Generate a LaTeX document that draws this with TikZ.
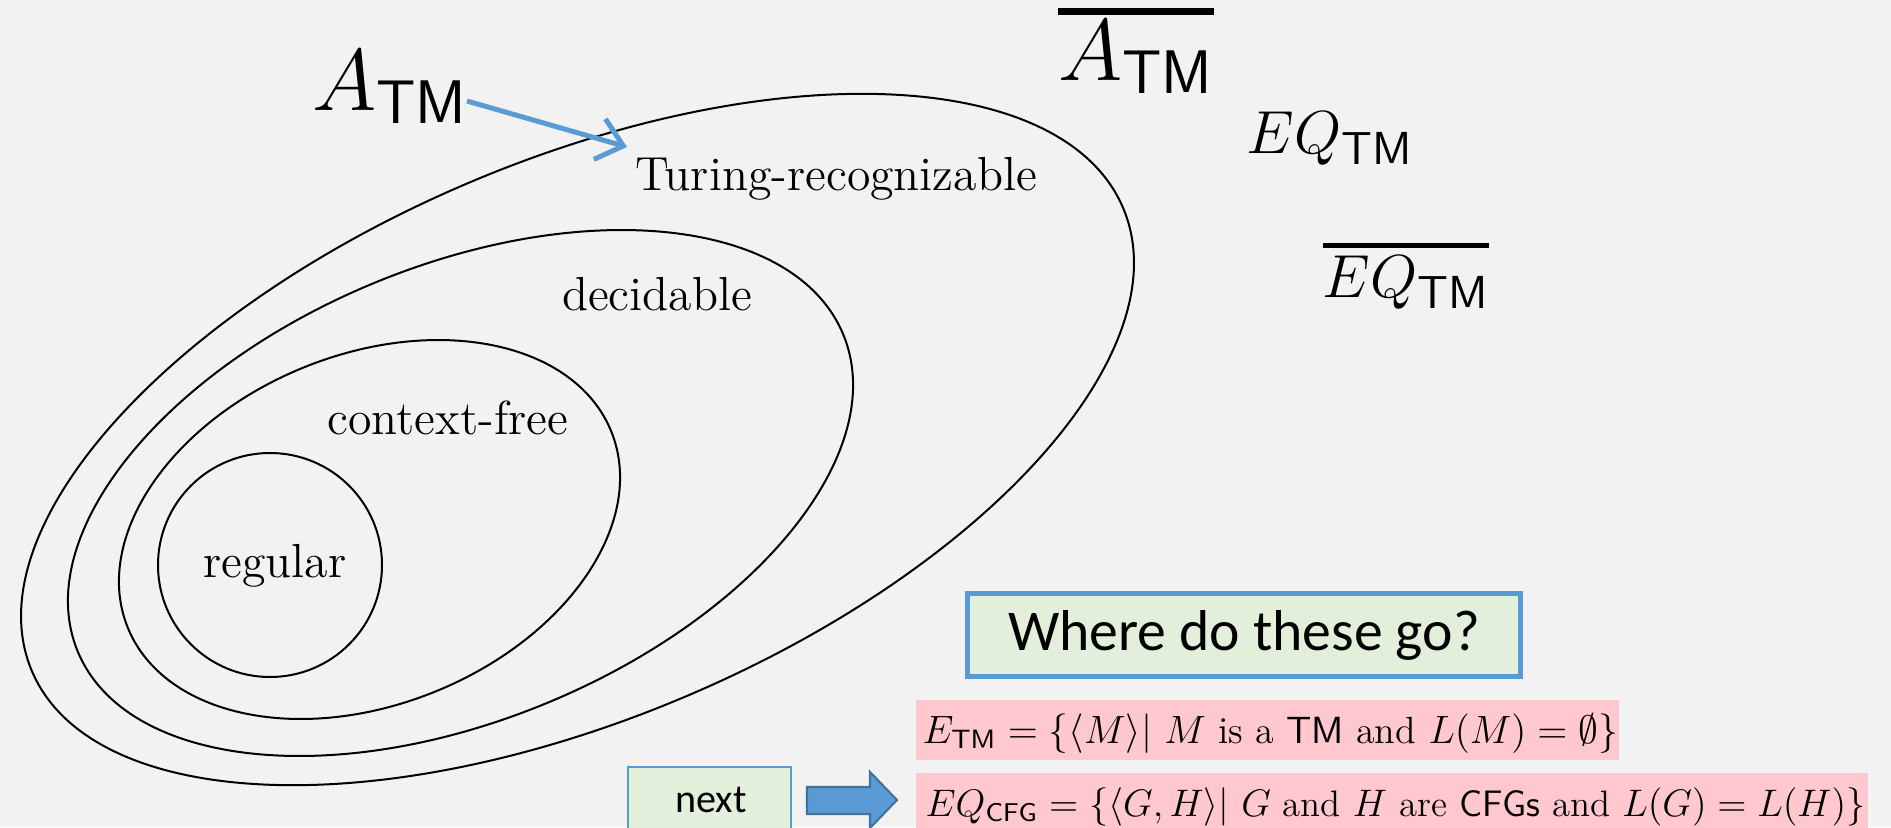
\documentclass[tikz,border=0pt]{standalone}
\usepackage{amsmath}
\usepackage{graphicx}
\usepackage{fontspec}
\newfontfamily\calibri{Carlito}
\usetikzlibrary{arrows.meta}
\definecolor{bg}{HTML}{F2F2F2}
\definecolor{accblue}{HTML}{5B9BD5}
\definecolor{darkblue}{HTML}{41719C}
\definecolor{lgreen}{HTML}{E2EFDA}
\definecolor{lpink}{HTML}{FFC7CE}
\newcommand{\thickbar}[3]{\vbox{\hrule height #1\kern #2\hbox{#3}}}
\tikzset{
  setline/.style={draw=black, line width=0.57pt},
  setlabel/.style={font=\fontsize{13.6}{16}\selectfont, inner sep=0pt, anchor=base},
  bigmath/.style={font=\fontsize{25}{30}\selectfont, inner sep=0pt, anchor=base},
  midmath/.style={font=\fontsize{18.8}{22}\selectfont, inner sep=0pt, anchor=base},
  formula/.style={font=\fontsize{11.5}{14}\selectfont, inner sep=0pt, anchor=base west},
  pinkbox/.style={fill=lpink, inner sep=0pt, outer sep=0pt, anchor=north west},
  greenbox/.style={fill=lgreen, draw=accblue, inner sep=0pt, outer sep=0pt},
  pointer/.style={draw=accblue, line width=1.42pt, -{Straight Barb[length=7pt,width=12pt,line width=1.42pt]}}
}
\begin{document}
\begin{tikzpicture}[x=0.01cm,y=-0.01cm]
\useasboundingbox (0,0) rectangle (1891,827);
\fill[bg] (0,0) rectangle (1891,827);
\begin{scope}
\clip (0,0) rectangle (1891,827);
% nested classes
\draw[setline, rotate around={23:(577.5,439.5)}] (577.5,439.5) ellipse [x radius=592.7, y radius=278.8];
\draw[setline, rotate around={22.5:(460.5,493)}] (460.5,493) ellipse [x radius=414.3, y radius=227.1];
\draw[setline, rotate around={22.1:(369.5,529.5)}] (369.5,529.5) ellipse [x radius=260.9, y radius=174.9];
\draw[setline] (270,565) circle [radius=112];
% class labels
\node[setlabel] (tr) at (836,190) {Turing-recognizable};
\node[setlabel] (dec) at (657,310) {decidable};
\node[setlabel] (cf) at (448,434) {context-free};
\node[setlabel] (reg) at (275,577) {regular};
% languages
\node[bigmath] (atm) at (390,110) {$A_{\mathsf{TM}}$};
\node[bigmath] (atmc) at (1136,80) {\thickbar{1.8pt}{1.6pt}{$A_{\mathsf{TM}}$}};
\node[midmath] (eqtm) at (1330,153) {$EQ_{\mathsf{TM}}$};
\node[midmath] (eqtmc) at (1406,297) {\thickbar{1.4pt}{2.2pt}{$EQ_{\mathsf{TM}}$}};
\coordinate (arrs) at (467,101);
\coordinate (arre) at (627,147);
\draw[pointer] (arrs) -- (arre);
% question box
\node[greenbox, line width=1.42pt, minimum width=5.53cm, minimum height=0.83cm] (where) at (1244,635) {\calibri\fontsize{16.4}{20}\selectfont Where do these go?};
% pink formulas
\node[pinkbox, minimum width=7.03cm, minimum height=0.60cm] (p1) at (916,700) {};
\node[formula] (f1) at (922,743) {\resizebox{6.95cm}{!}{$E_{\mathsf{TM}} = \{\langle M\rangle |\ M \text{ is a } \mathsf{TM} \text{ and } L(M)=\emptyset\}$}};
\node[pinkbox, minimum width=9.51cm, minimum height=0.70cm] (p2) at (916,773) {};
\node[formula] (f2) at (925,816) {\resizebox{9.39cm}{!}{$EQ_{\mathsf{CFG}} = \{\langle G,H\rangle |\ G \text{ and } H \text{ are } \mathsf{CFGs} \text{ and } L(G)=L(H)\}$}};
% next button
\node[greenbox, line width=0.6pt, anchor=north west, minimum width=1.63cm, minimum height=0.75cm] (nextbox) at (628,767) {};
\node[inner sep=0pt, anchor=base, font=\calibri\fontsize{11.4}{14}\selectfont] (nexttxt) at (711,812) {next};
\draw[fill=accblue, draw=darkblue, line width=0.6pt] (807,787) -- (870,787) -- (870,772) -- (897,800) -- (870,828) -- (870,814) -- (807,814) -- cycle;
\end{scope}
\end{tikzpicture}
\end{document}
